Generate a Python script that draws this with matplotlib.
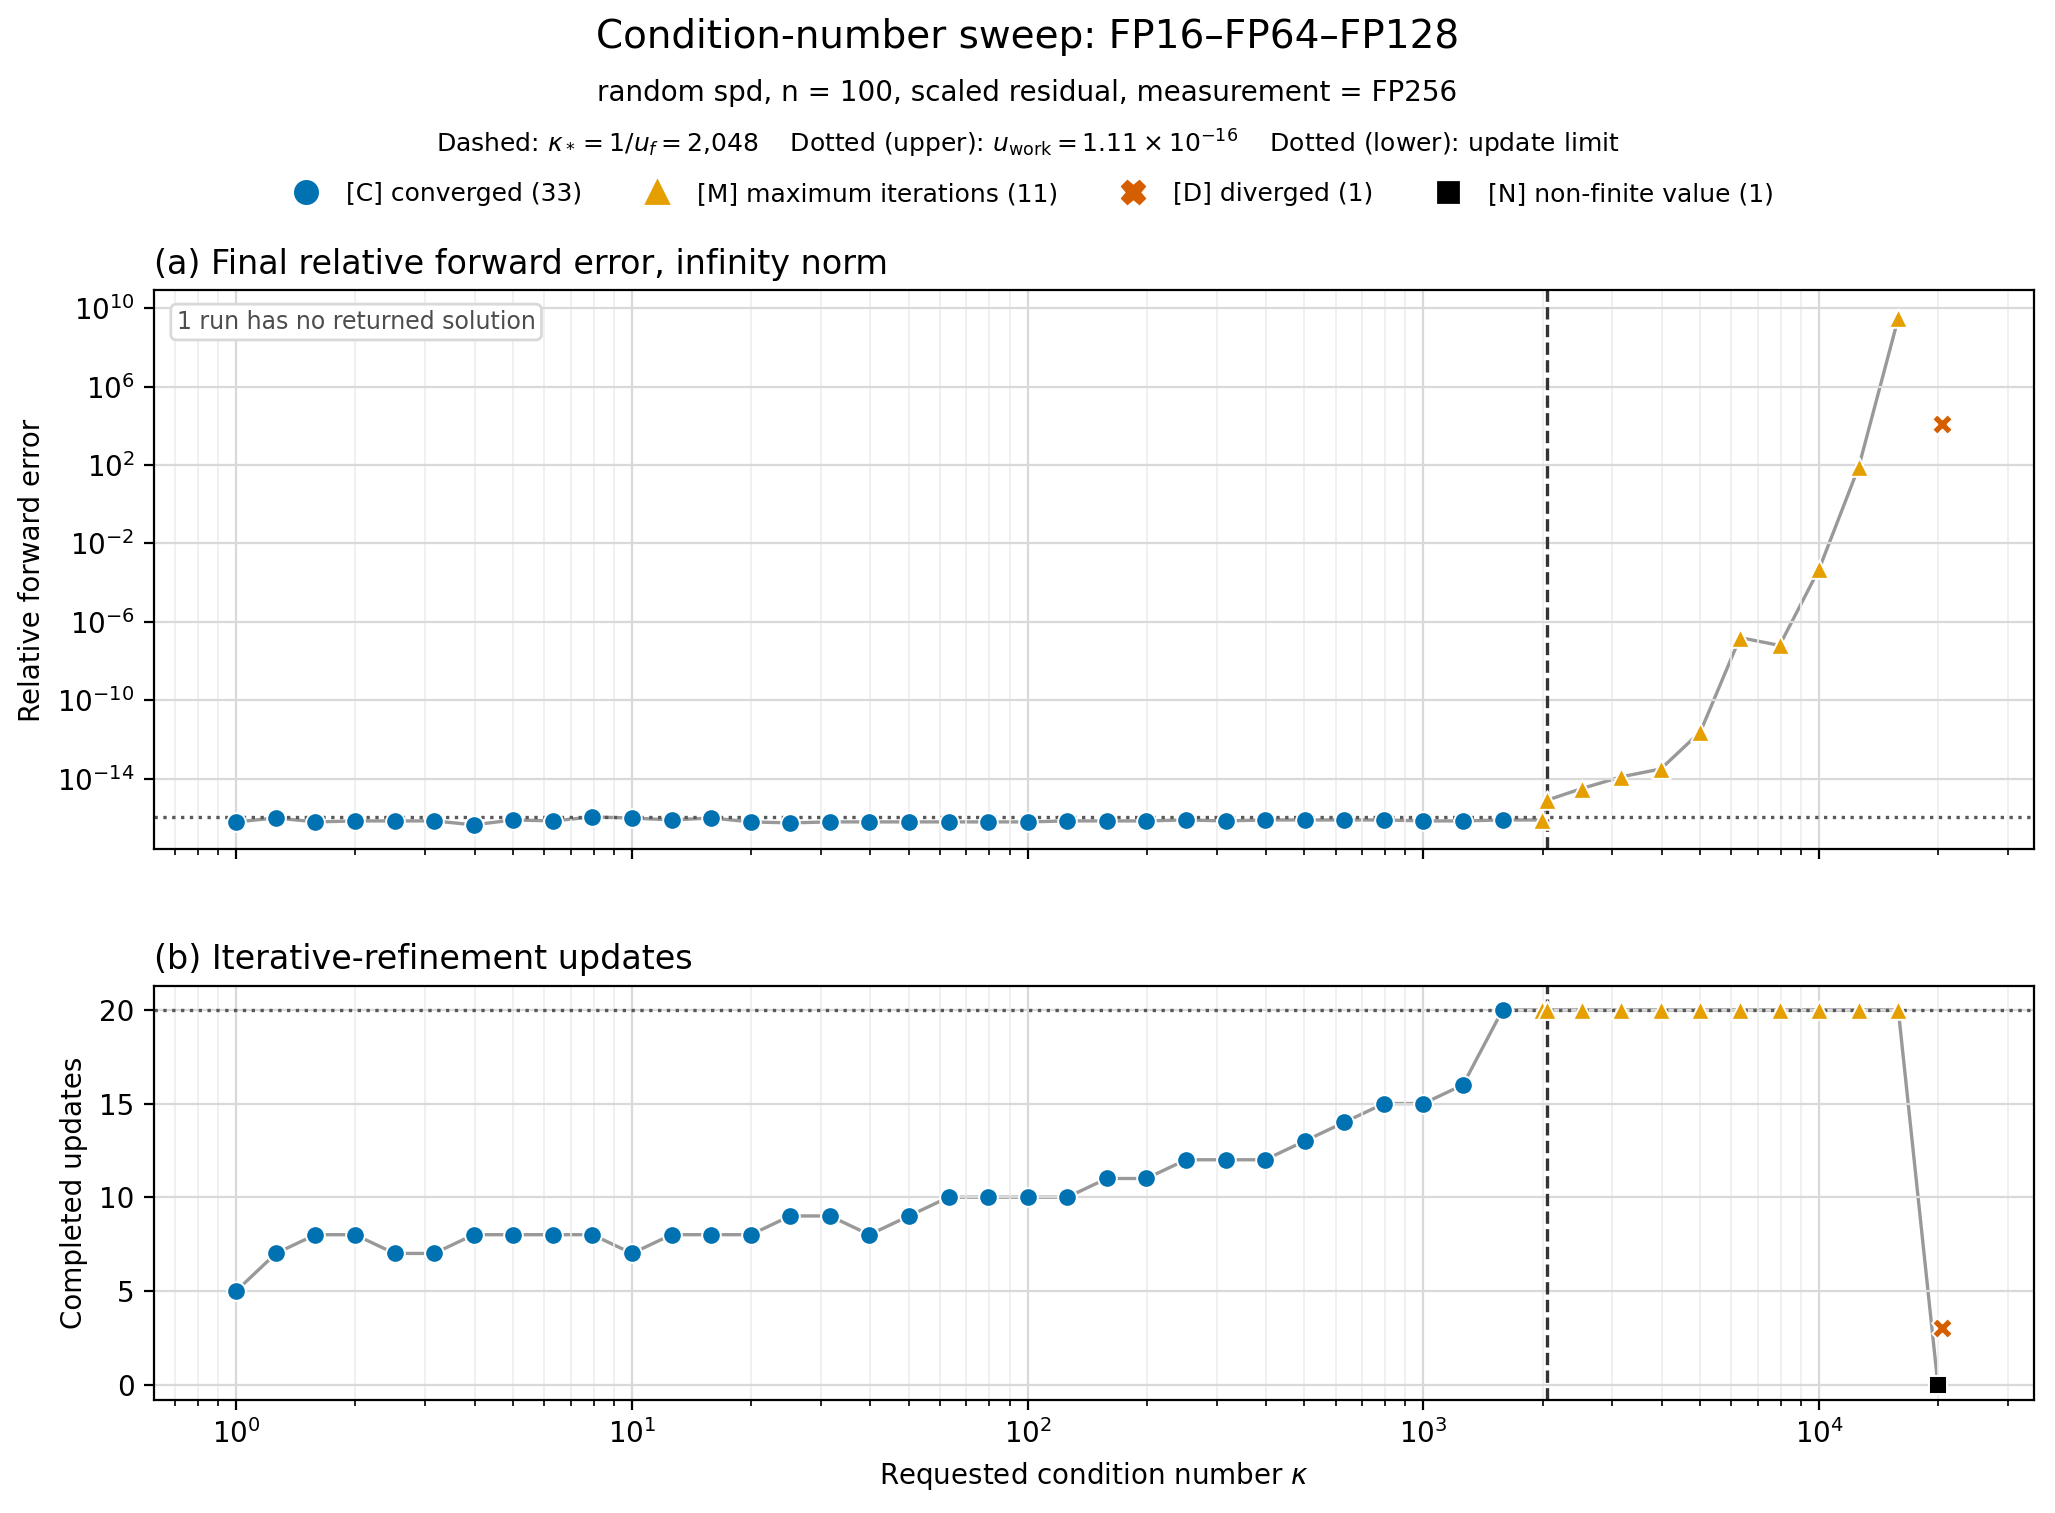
import numpy as np
import matplotlib.pyplot as plt

kappa_c = 10 ** (np.arange(33) / 10)
err_c_exp = [-16.2, -16.0, -16.2, -16.15, -16.15, -16.15, -16.35, -16.1, -16.15, -15.95,
             -16.0, -16.1, -16.0, -16.2, -16.25, -16.2, -16.2, -16.2, -16.2, -16.2,
             -16.2, -16.15, -16.15, -16.15, -16.1, -16.15, -16.1, -16.1, -16.1, -16.1,
             -16.15, -16.15, -16.1]
upd_c = [5, 7, 8, 8, 7, 7, 8, 8, 8, 8, 7, 8, 8, 8, 9, 9, 8, 9, 10, 10,
         10, 10, 11, 11, 12, 12, 12, 13, 14, 15, 15, 16, 20]

kappa_m = [1995, 2048, 2512, 3162, 3981, 5012, 6310, 7943, 10000, 12589, 15849]
err_m_exp = [-16.1, -15.1, -14.5, -13.9, -13.5, -11.6, -6.8, -7.2, -3.3, 1.9, 9.5]
upd_m = [20] * 11

kappa_d = [20480]
err_d_exp = [4.1]
upd_d = [3]

kappa_n = [19953]
upd_n = [0]

kappa_star = 2048
u_work = 1.11e-16
upd_limit = 20

err_c = 10.0 ** np.array(err_c_exp)
err_m = 10.0 ** np.array(err_m_exp)
err_d = 10.0 ** np.array(err_d_exp)

C_COL, M_COL, D_COL, N_COL = "#0072b2", "#e69f00", "#d55e00", "black"

fig, (ax1, ax2) = plt.subplots(2, 1, figsize=(10.275, 7.565), dpi=200, sharex=True,
                               gridspec_kw=dict(height_ratios=[1.35, 1]))
fig.subplots_adjust(left=0.075, right=0.99, top=0.808, bottom=0.075, hspace=0.28)

# panel a
xa = list(kappa_c) + kappa_m
ya = list(err_c) + list(err_m)
ax1.plot(xa, ya, color="0.6", lw=1.2, zorder=1)
ax1.scatter(kappa_c, err_c, marker="o", s=45, color=C_COL, edgecolor="white", lw=0.7, zorder=3)
ax1.scatter(kappa_m, err_m, marker="^", s=45, color=M_COL, edgecolor="white", lw=0.7, zorder=3)
ax1.scatter(kappa_d, err_d, marker="X", s=55, color=D_COL, edgecolor="white", lw=0.7, zorder=3)
ax1.axvline(kappa_star, color="0.2", ls="--", lw=1.2)
ax1.axhline(u_work, color="0.35", ls=":", lw=1.2)
ax1.set_xscale("log")
ax1.set_yscale("log")
ax1.set_ylim(10 ** -17.6, 10 ** 10.9)
ax1.set_yticks([1e-14, 1e-10, 1e-6, 1e-2, 1e2, 1e6, 1e10])
ax1.set_ylabel("Relative forward error")
ax1.set_title("(a) Final relative forward error, infinity norm", loc="left", fontsize=12)
ax1.grid(True, which="major", color="0.85")
ax1.grid(True, which="minor", axis="x", color="0.93", lw=0.6)
ax1.text(0.012, 0.965, "1 run has no returned solution", transform=ax1.transAxes,
         ha="left", va="top", fontsize=8.5, color="0.3",
         bbox=dict(boxstyle="round,pad=0.25", fc="white", ec="0.85"))

# panel b
xb = list(kappa_c) + kappa_m + kappa_n
yb = upd_c + upd_m + upd_n
ax2.plot(xb, yb, color="0.6", lw=1.2, zorder=1)
ax2.scatter(kappa_c, upd_c, marker="o", s=45, color=C_COL, edgecolor="white", lw=0.7, zorder=3)
ax2.scatter(kappa_m, upd_m, marker="^", s=45, color=M_COL, edgecolor="white", lw=0.7, zorder=3)
ax2.scatter(kappa_d, upd_d, marker="X", s=55, color=D_COL, edgecolor="white", lw=0.7, zorder=3)
ax2.scatter(kappa_n, upd_n, marker="s", s=40, color=N_COL, edgecolor="white", lw=0.7, zorder=3)
ax2.axvline(kappa_star, color="0.2", ls="--", lw=1.2)
ax2.axhline(upd_limit, color="0.35", ls=":", lw=1.2)
ax2.set_ylim(-0.8, 21.3)
ax2.set_yticks([0, 5, 10, 15, 20])
ax2.set_xlim(0.62, 3.5e4)
ax2.set_ylabel("Completed updates")
ax2.set_xlabel(r"Requested condition number $\kappa$")
ax2.set_title("(b) Iterative-refinement updates", loc="left", fontsize=12)
ax2.grid(True, which="major", color="0.85")
ax2.grid(True, which="minor", axis="x", color="0.93", lw=0.6)

fig.suptitle("Condition-number sweep: FP16–FP64–FP128", fontsize=14, y=0.988)
fig.text(0.5, 0.933, "random spd, n = 100, scaled residual, measurement = FP256",
         ha="center", fontsize=10)
fig.text(0.5, 0.899, r"Dashed: $\kappa_* = 1/u_f = 2{,}048$    Dotted (upper): $u_{\mathrm{work}} = 1.11\times10^{-16}$    Dotted (lower): update limit",
         ha="center", fontsize=9)

h = [plt.Line2D([], [], marker="o", ls="", color=C_COL, ms=8),
     plt.Line2D([], [], marker="^", ls="", color=M_COL, ms=8),
     plt.Line2D([], [], marker="X", ls="", color=D_COL, ms=8),
     plt.Line2D([], [], marker="s", ls="", color=N_COL, ms=7)]
labels = ["[C] converged (33)", "[M] maximum iterations (11)", "[D] diverged (1)", "[N] non-finite value (1)"]
fig.legend(h, labels, loc="center", bbox_to_anchor=(0.5, 0.872), ncol=4, frameon=False,
           fontsize=9, handletextpad=0.6, columnspacing=2.0)

fig.savefig("out.png")
